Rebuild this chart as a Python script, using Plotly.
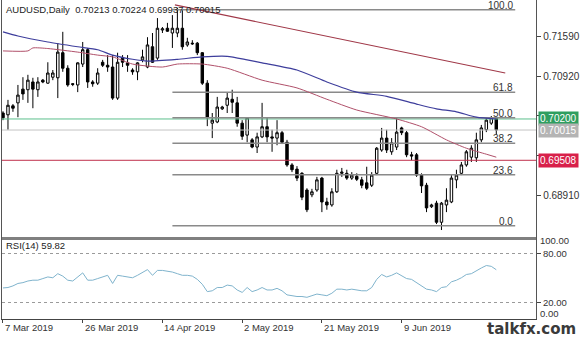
import plotly.graph_objects as go

# ---------------- data ----------------
bars = list(range(100))  # daily bars (incl. Sunday bars), 7 Mar 2019 = bar 0

opens = [
    0.7030, 0.7027, 0.7042, 0.7047, 0.7070, 0.7069, 0.7082, 0.7069, 0.7085, 0.7080,
    0.7090, 0.7089, 0.7131, 0.7105, 0.7079, 0.7077, 0.7112, 0.7136, 0.7082, 0.7080,
    0.7115, 0.7110, 0.7107, 0.7055, 0.7122, 0.7114, 0.7102, 0.7099, 0.7119, 0.7107,
    0.7141, 0.7122, 0.7169, 0.7172, 0.7164, 0.7164, 0.7172, 0.7144, 0.7147, 0.7147,
    0.7131, 0.7080, 0.7013, 0.7015, 0.7037, 0.7043, 0.7053, 0.7047, 0.7013, 0.6993,
    0.6985, 0.6973, 0.6990, 0.7007, 0.6990, 0.6988, 0.6997, 0.6981, 0.6943, 0.6936,
    0.6929, 0.6901, 0.6893, 0.6901, 0.6921, 0.6881, 0.6876, 0.6898, 0.6929, 0.6929,
    0.6921, 0.6924, 0.6918, 0.6913, 0.6909, 0.6929, 0.6968, 0.6988, 0.6965, 0.6973,
    0.7005, 0.6997, 0.6960, 0.6960, 0.6926, 0.6909, 0.6873, 0.6879, 0.6847, 0.6876,
    0.6881, 0.6918, 0.6929, 0.6943, 0.6956, 0.6955, 0.6985, 0.7002, 0.7013, 0.70213,
]
highs = [
    0.7033, 0.7052, 0.7045, 0.7077, 0.7090, 0.7094, 0.7089, 0.7090, 0.7087, 0.7115,
    0.7102, 0.7147, 0.7166, 0.7110, 0.7080, 0.7115, 0.7149, 0.7139, 0.7085, 0.7105,
    0.7119, 0.7127, 0.7127, 0.7131, 0.7127, 0.7127, 0.7105, 0.7115, 0.7136, 0.7157,
    0.7164, 0.7189, 0.7174, 0.7181, 0.7194, 0.7206, 0.7203, 0.7156, 0.7152, 0.7149,
    0.7132, 0.7085, 0.7030, 0.7057, 0.7042, 0.7065, 0.7069, 0.7057, 0.7018, 0.7023,
    0.6988, 0.6997, 0.7047, 0.7023, 0.7002, 0.7018, 0.7000, 0.6985, 0.6946, 0.6941,
    0.6931, 0.6904, 0.6903, 0.6923, 0.6923, 0.6888, 0.6904, 0.6935, 0.6938, 0.6935,
    0.6931, 0.6929, 0.6923, 0.6940, 0.6931, 0.6973, 0.7005, 0.7002, 0.6988, 0.7022,
    0.7007, 0.7000, 0.6965, 0.6963, 0.6929, 0.6913, 0.6878, 0.6883, 0.6881, 0.6904,
    0.6926, 0.6935, 0.6948, 0.6968, 0.6976, 0.6997, 0.7010, 0.7022, 0.7025, 0.70224,
]
lows = [
    0.7018, 0.7002, 0.7032, 0.7023, 0.7052, 0.7047, 0.7038, 0.7057, 0.7080, 0.7079,
    0.7085, 0.7055, 0.7099, 0.7074, 0.7075, 0.7065, 0.7107, 0.7072, 0.7074, 0.7077,
    0.7107, 0.7099, 0.7052, 0.7052, 0.7107, 0.7099, 0.7094, 0.7085, 0.7115, 0.7105,
    0.7114, 0.7119, 0.7164, 0.7166, 0.7139, 0.7157, 0.7136, 0.7141, 0.7144, 0.7127,
    0.7077, 0.7008, 0.6988, 0.7013, 0.7035, 0.7030, 0.7030, 0.7007, 0.6985, 0.6981,
    0.6971, 0.6963, 0.6988, 0.6981, 0.6965, 0.6976, 0.6978, 0.6940, 0.6931, 0.6916,
    0.6884, 0.6864, 0.6889, 0.6898, 0.6864, 0.6868, 0.6873, 0.6896, 0.6923, 0.6918,
    0.6918, 0.6916, 0.6904, 0.6901, 0.6906, 0.6926, 0.6965, 0.6963, 0.6960, 0.6968,
    0.6993, 0.6956, 0.6951, 0.6923, 0.6896, 0.6864, 0.6871, 0.6844, 0.6834, 0.6864,
    0.6879, 0.6904, 0.6926, 0.6940, 0.6948, 0.6948, 0.6981, 0.6998, 0.7010, 0.69937,
]
closes = [
    0.7022, 0.7043, 0.7038, 0.7060, 0.7062, 0.7085, 0.7070, 0.7082, 0.7082, 0.7097,
    0.7097, 0.7132, 0.7105, 0.7077, 0.7078, 0.7114, 0.7136, 0.7082, 0.7079, 0.7097,
    0.7110, 0.7107, 0.7055, 0.7115, 0.7115, 0.7110, 0.7099, 0.7114, 0.7124, 0.7144,
    0.7115, 0.7172, 0.7171, 0.7167, 0.7172, 0.7172, 0.7141, 0.7149, 0.7146, 0.7131,
    0.7080, 0.7022, 0.7018, 0.7040, 0.7040, 0.7055, 0.7048, 0.7013, 0.6991, 0.7022,
    0.6973, 0.6990, 0.7007, 0.6990, 0.6988, 0.6997, 0.6981, 0.6943, 0.6935, 0.6921,
    0.6889, 0.6868, 0.6898, 0.6918, 0.6881, 0.6876, 0.6898, 0.6929, 0.6931, 0.6921,
    0.6926, 0.6919, 0.6909, 0.6904, 0.6926, 0.6971, 0.6988, 0.6968, 0.6980, 0.6998,
    0.6997, 0.6960, 0.6958, 0.6926, 0.6908, 0.6871, 0.6876, 0.6847, 0.6879, 0.6884,
    0.6921, 0.6926, 0.6943, 0.6965, 0.6971, 0.6985, 0.7005, 0.7018, 0.7022, 0.70015,
]

# moving averages (read at sample bars)
ma_blue_bars = [0, 3, 9, 15, 19, 22, 26, 29, 35, 40, 45, 49, 52, 59, 65, 71, 77, 83, 87, 91, 95, 99]
ma_blue_vals = [0.7166, 0.7159, 0.7149, 0.7141, 0.7136, 0.7127, 0.7120, 0.7117, 0.7120, 0.7124,
                0.7125, 0.7119, 0.7114, 0.7102, 0.7082, 0.7065, 0.7058, 0.7045, 0.7037, 0.7032,
                0.7023, 0.7020]
ma_red_bars = [0, 5, 6, 9, 15, 19, 22, 26, 32, 35, 40, 45, 52, 59, 65, 71, 79, 84, 89, 93, 97, 99]
ma_red_vals = [0.7134, 0.7134, 0.7139, 0.7138, 0.7132, 0.7127, 0.7124, 0.7112, 0.7107, 0.7112,
               0.7112, 0.7105, 0.7085, 0.7072, 0.7053, 0.7035, 0.7020, 0.7007, 0.6985, 0.6971,
               0.6961, 0.6956]

# trend line
trend_bars = [34.5, 100.8]
trend_vals = [0.7211, 0.7097]

# Fibonacci retracement
fib_levels = [100.0, 61.8, 50.0, 38.2, 23.6, 0.0]
fib_low, fib_high = 0.6841, 0.7203
fib_bars = [34, 102.8]

# horizontal price lines
green_level = 0.70200
bid_level = 0.70015
red_level = 0.69508

# RSI(14)
rsi_vals = [
    37.5, 38, 40, 43, 44, 46, 47, 47, 49, 51,
    50, 55, 52, 47, 46, 51, 56, 47, 47, 49,
    51, 53, 43, 53, 52, 51, 50, 53, 56, 60,
    53, 59, 59, 58, 57, 55, 53, 53, 52, 48,
    42, 33, 34, 38, 38, 41, 40, 35, 32, 38,
    33, 35, 38, 35, 35, 37, 34, 29, 28, 27,
    27, 26, 28, 30, 29, 28, 31, 36, 36, 35,
    36, 35, 34, 34, 38, 48, 54, 51, 53, 56,
    52, 49, 48, 44, 41, 36, 35, 33, 38, 39,
    45, 47, 50, 54, 55, 59, 62, 65, 64, 59.82,
]

price_ticks = [0.71590, 0.70920, 0.70250, 0.69580, 0.68910]
price_tick_text = ["0.71590", "0.70920", "", "", "0.68910"]  # two are hidden behind the price boxes
rsi_ticks = [20, 80]
rsi_tick_text = ["20.00", "80.00"]
date_tick_bars = [0, 16, 32, 48, 64, 80]
date_tick_text = ["7 Mar 2019", "26 Mar 2019", "14 Apr 2019", "2 May 2019", "21 May 2019", "9 Jun 2019"]
title_text = "AUDUSD,Daily  0.70213 0.70224 0.69937 0.70015"

# ---------------- figure ----------------
W, H = 580, 337
FONT = "Liberation Sans, Arial, sans-serif"

fig = go.Figure()

fig.add_trace(go.Candlestick(
    x=bars, open=opens, high=highs, low=lows, close=closes,
    increasing=dict(line=dict(color="black", width=1), fillcolor="white"),
    decreasing=dict(line=dict(color="black", width=1), fillcolor="black"),
    whiskerwidth=0, xaxis="x", yaxis="y", hoverinfo="skip",
))

# full-width horizontal lines
for lvl, col in [(green_level, "#5cbf8c"), (bid_level, "#c4c4c4"), (red_level, "#c0304c")]:
    fig.add_trace(go.Scatter(x=[-0.2, 107], y=[lvl, lvl], mode="lines",
                             line=dict(color=col, width=1), xaxis="x", yaxis="y", hoverinfo="skip"))

# fib lines
for lv in fib_levels:
    p = fib_low + (fib_high - fib_low) * lv / 100.0
    fig.add_trace(go.Scatter(x=fib_bars, y=[p, p], mode="lines",
                             line=dict(color="#8a8a8a", width=1.5), xaxis="x", yaxis="y", hoverinfo="skip"))

# moving averages and trendline
fig.add_trace(go.Scatter(x=ma_blue_bars, y=ma_blue_vals, mode="lines",
                         line=dict(color="#3e3e9c", width=1.2, shape="spline", smoothing=0.6),
                         xaxis="x", yaxis="y", hoverinfo="skip"))
fig.add_trace(go.Scatter(x=ma_red_bars, y=ma_red_vals, mode="lines",
                         line=dict(color="#b0506a", width=1, shape="spline", smoothing=0.6),
                         xaxis="x", yaxis="y", hoverinfo="skip"))
fig.add_trace(go.Scatter(x=trend_bars, y=trend_vals, mode="lines", line=dict(color="#a03848", width=1.2),
                         xaxis="x", yaxis="y", hoverinfo="skip"))

# RSI
fig.add_trace(go.Scatter(x=bars, y=rsi_vals, mode="lines", line=dict(color="#7fb3cc", width=1),
                         xaxis="x2", yaxis="y2", hoverinfo="skip"))

xdom = [2 / W, 538 / W]
main_dom = [1 - 237 / H, 1]
rsi_dom = [1 - 318.5 / H, 1 - 237 / H]

annotations = []
annotations.append(dict(text=title_text, xref="paper", yref="paper", x=4 / W, y=1 - 9 / H,
                        xanchor="left", yanchor="middle", showarrow=False,
                        font=dict(family=FONT, size=9.5, color="#222")))
annotations.append(dict(text="RSI(14) 59.82", xref="paper", yref="paper", x=4 / W, y=1 - 245 / H,
                        xanchor="left", yanchor="middle", showarrow=False,
                        font=dict(family=FONT, size=9.5, color="#222")))
for lv in fib_levels:
    p = fib_low + (fib_high - fib_low) * lv / 100.0
    annotations.append(dict(text=f"{lv:.1f}", xref="x", yref="y", x=102.6, y=p,
                            xanchor="right", yanchor="bottom", yshift=-2, borderpad=0, showarrow=False,
                            font=dict(family=FONT, size=10, color="#333")))
for lvl, bg in [(green_level, "#2f9e5f"), (bid_level, "#b4b4b4"), (red_level, "#d8204a")]:
    annotations.append(dict(text=f"{lvl:.5f}", xref="paper", yref="y", x=540 / W, y=lvl,
                            xanchor="left", yanchor="middle", showarrow=False, bgcolor=bg,
                            borderpad=1, font=dict(family=FONT, size=10, color="white")))
for b, t in zip(date_tick_bars, date_tick_text):
    annotations.append(dict(text=t, xref="x2", yref="paper", x=b, y=1 - 320 / H,
                            xanchor="left", yanchor="top", showarrow=False,
                            font=dict(family=FONT, size=9.5, color="#333")))
annotations.append(dict(text="100.00", xref="paper", yref="y2", x=541 / W, y=100,
                        xanchor="left", yanchor="middle", yshift=-3, borderpad=0, showarrow=False,
                        font=dict(family=FONT, size=9.5, color="#333")))
annotations.append(dict(text="0.00", xref="paper", yref="y2", x=541 / W, y=0,
                        xanchor="left", yanchor="middle", yshift=4.7, borderpad=0, showarrow=False,
                        font=dict(family=FONT, size=9.5, color="#333")))
annotations.append(dict(text="<b>talkfx.com</b>", xref="paper", yref="paper", x=579 / W, y=1 - 328.5 / H,
                        xanchor="right", yanchor="middle", borderpad=0, showarrow=False,
                        font=dict(family="DejaVu Sans", size=15, color="#3a3a3a")))

fig.update_layout(
    width=W, height=H, margin=dict(l=0, r=0, t=0, b=0),
    paper_bgcolor="white", plot_bgcolor="white", showlegend=False, hovermode=False,
    xaxis=dict(domain=xdom, range=[-0.2, 107], anchor="y", showgrid=False, zeroline=False,
               showticklabels=False, ticks="", showline=True, linecolor="#808080", linewidth=3,
               rangeslider=dict(visible=False), fixedrange=True),
    yaxis=dict(domain=main_dom, range=[0.68223, 0.72193], anchor="x", side="right",
               showgrid=False, zeroline=False, showline=True, mirror=True, linecolor="#555", linewidth=1,
               ticks="outside", ticklen=4, tickcolor="#444", tickvals=price_ticks,
               ticktext=price_tick_text,
               tickfont=dict(family=FONT, size=10, color="#333")),
    xaxis2=dict(domain=xdom, range=[-0.2, 107], anchor="y2", showgrid=False, zeroline=False,
                showticklabels=False, ticks="outside", ticklen=3, tickcolor="#444",
                tickvals=date_tick_bars, showline=True, linecolor="#444", linewidth=1),
    yaxis2=dict(domain=rsi_dom, range=[0, 100], anchor="x2", side="right",
                showgrid=True, gridcolor="#9a9a9a", griddash="dot", gridwidth=1, zeroline=False,
                showline=True, mirror=True, linecolor="#555", linewidth=1,
                ticks="outside", ticklen=4, tickcolor="#444", tickvals=rsi_ticks,
                ticktext=rsi_tick_text, tickfont=dict(family=FONT, size=9.5, color="#333")),
    annotations=annotations,
)

fig.write_html("out.html")
